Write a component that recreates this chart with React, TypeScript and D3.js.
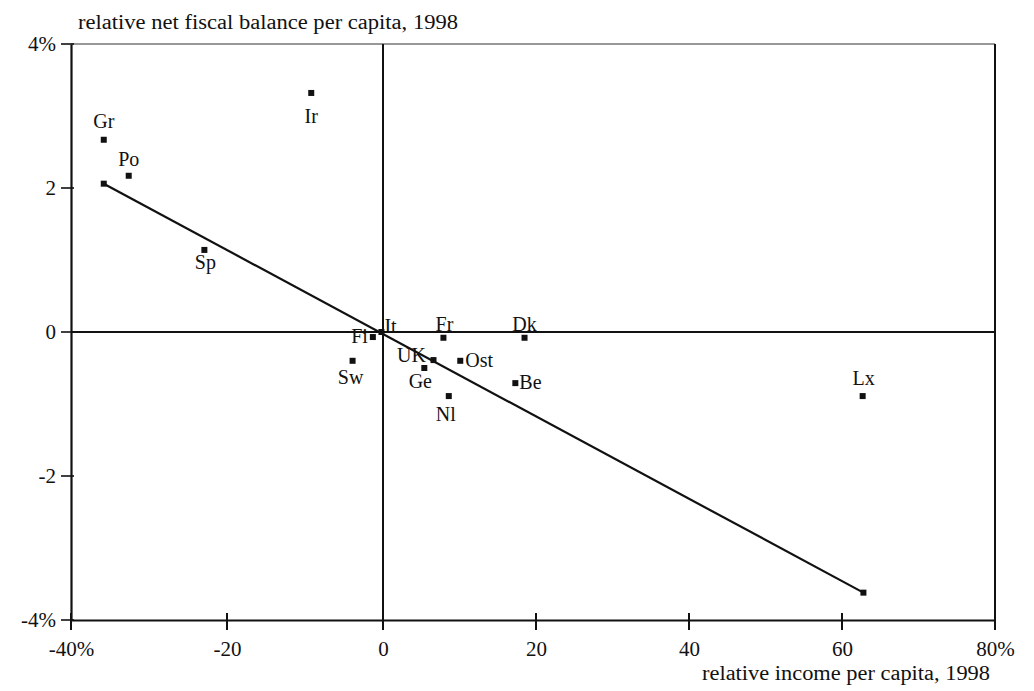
import { useEffect, useRef } from "react";
import * as d3 from "d3";

// country abbreviations, relative income per capita (%), relative net fiscal balance (%)
const countries = ["Gr", "Po", "Ir", "Sp", "Fi", "It", "Fr", "Dk", "Sw", "UK", "Ge", "Ost", "Be", "Nl", "Lx"];
const income = [-35.8, -32.6, -9.2, -22.9, -1.3, -0.2, 7.9, 18.5, -3.9, 6.6, 5.4, 10.1, 17.3, 8.6, 62.7];
const balance = [2.67, 2.17, 3.32, 1.14, -0.07, 0.0, -0.08, -0.08, -0.4, -0.39, -0.5, -0.4, -0.71, -0.89, -0.89];

// fitted line end points
const fitX = [-35.8, 62.8];
const fitY = [2.06, -3.62];

const xTicks = [-40, -20, 0, 20, 40, 60, 80];
const yTicks = [-4, -2, 0, 2, 4];

// label placement relative to marker (style only)
const labelPos: Record<string, [number, number, string]> = {
  Gr: [0, -12, "middle"],
  Po: [0, -10, "middle"],
  Ir: [0, 30, "middle"],
  Sp: [1, 19, "middle"],
  Fi: [-5, 6, "end"],
  It: [3, 1, "start"],
  Fr: [1, -7, "middle"],
  Dk: [0, -7, "middle"],
  Sw: [-2, 23, "middle"],
  UK: [-22, 2, "middle"],
  Ge: [-4, 20, "middle"],
  Ost: [5, 6, "start"],
  Be: [4, 6, "start"],
  Nl: [-3, 25, "middle"],
  Lx: [1, -11, "middle"],
};

export default function App() {
  const ref = useRef<SVGSVGElement | null>(null);

  useEffect(() => {
    const svg = d3.select(ref.current);
    svg.selectAll("*").remove();
    const W = 1034, H = 691;
    svg.attr("viewBox", `0 0 ${W} ${H}`);
    const font = "'Liberation Serif', 'Times New Roman', serif";

    // the scanned axis is slightly uneven, so anchor zero too
    const x = d3.scaleLinear().domain([-40, 0, 80]).range([71, 383, 995]);
    const y = d3.scaleLinear().domain([-4, 4]).range([620, 44]);

    svg.append("rect").attr("width", W).attr("height", H).attr("fill", "white");

    // frame
    svg.append("line")
      .attr("x1", x(-40)).attr("x2", x(80)).attr("y1", y(4)).attr("y2", y(4))
      .attr("stroke", "#333").attr("stroke-width", 1.2);
    svg.append("line")
      .attr("x1", x(80)).attr("x2", x(80)).attr("y1", y(4)).attr("y2", y(-4))
      .attr("stroke", "#111").attr("stroke-width", 2);

    // bottom axis
    const ax = d3.axisBottom(x).tickValues(xTicks).tickSize(0)
      .tickFormat(d => (d === -40 || d === 80) ? `${d}%` : `${d}`);
    svg.append("g")
      .attr("transform", `translate(0,${y(-4)})`)
      .call(ax as any)
      .call((g: any) => g.select(".domain").attr("stroke", "#111").attr("stroke-width", 2))
      .call((g: any) => g.selectAll("text")
        .attr("fill", "#111").attr("font-size", 21).attr("font-family", font).attr("dy", 0).attr("y", 36));
    svg.append("g").selectAll("line").data(xTicks).enter().append("line")
      .attr("x1", d => x(d)).attr("x2", d => x(d))
      .attr("y1", y(-4) - 7).attr("y2", y(-4) + 10)
      .attr("stroke", "#111").attr("stroke-width", 2);

    // left axis
    const ay = d3.axisLeft(y).tickValues(yTicks).tickSize(0)
      .tickFormat(d => (d === -4 || d === 4) ? `${d}%` : `${d}`);
    svg.append("g")
      .attr("transform", `translate(${x(-40)},0)`)
      .call(ay as any)
      .call((g: any) => g.select(".domain").attr("stroke", "#111").attr("stroke-width", 2.2))
      .call((g: any) => g.selectAll("text")
        .attr("fill", "#111").attr("font-size", 21).attr("font-family", font).attr("x", -15).attr("dy", "0.32em"));
    svg.append("g").selectAll("line").data(yTicks).enter().append("line")
      .attr("x1", x(-40) - 10).attr("x2", x(-40) + 3)
      .attr("y1", d => y(d)).attr("y2", d => y(d))
      .attr("stroke", "#111").attr("stroke-width", 1.6);

    // zero lines
    svg.append("line")
      .attr("x1", x(0)).attr("x2", x(0)).attr("y1", y(4)).attr("y2", y(-4))
      .attr("stroke", "#111").attr("stroke-width", 2);
    svg.append("line")
      .attr("x1", x(-40)).attr("x2", x(80)).attr("y1", y(0)).attr("y2", y(0))
      .attr("stroke", "#111").attr("stroke-width", 2);

    // fitted line
    const fit = d3.line<number>().x(d => x(d)).y((_, i) => y(fitY[i]));
    svg.append("path").datum(fitX).attr("d", fit)
      .attr("fill", "none").attr("stroke", "#111").attr("stroke-width", 2.2);
    svg.append("g").selectAll("rect").data(fitX).enter().append("rect")
      .attr("x", d => x(d) - 3).attr("y", (_, i) => y(fitY[i]) - 3)
      .attr("width", 6).attr("height", 6).attr("fill", "#111");

    // points
    const pts = svg.append("g");
    countries.forEach((c, i) => {
      const px = x(income[i]), py = y(balance[i]);
      pts.append("rect")
        .attr("x", px - 3).attr("y", py - 3).attr("width", 6).attr("height", 6)
        .attr("fill", "#111");
      const [dx, dy, anchor] = labelPos[c];
      pts.append("text")
        .attr("x", px + dx).attr("y", py + dy)
        .attr("text-anchor", anchor)
        .attr("font-family", font).attr("font-size", 20).attr("fill", "#111")
        .text(c);
    });

    // axis titles
    svg.append("text")
      .attr("x", 78).attr("y", 29)
      .attr("font-family", font).attr("font-size", 20).attr("fill", "#111")
      .attr("textLength", 380).attr("lengthAdjust", "spacingAndGlyphs")
      .text("relative net fiscal balance per capita, 1998");
    svg.append("text")
      .attr("x", 702).attr("y", 680)
      .attr("font-family", font).attr("font-size", 20).attr("fill", "#111")
      .attr("textLength", 288).attr("lengthAdjust", "spacingAndGlyphs")
      .text("relative income per capita, 1998");
  }, []);

  return (
    <svg
      ref={ref}
      width={1034}
      height={691}
      style={{ position: "absolute", left: 0, top: 0, display: "block" }}
    />
  );
}
